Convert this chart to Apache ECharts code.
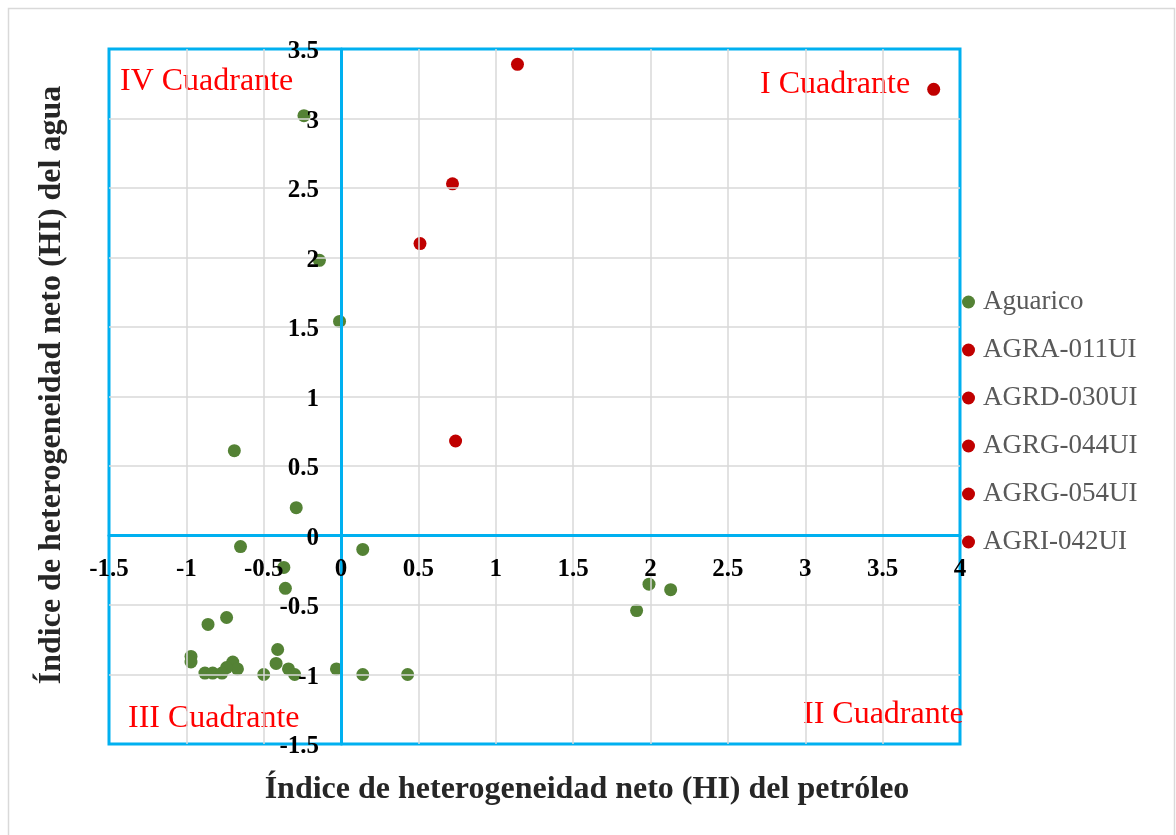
<!DOCTYPE html>
<html>
<head>
<meta charset="utf-8">
<script src="https://cdn.jsdelivr.net/npm/echarts@6/dist/echarts.min.js"></script>
<style>
html,body{margin:0;padding:0;background:#fff;}
#chart{width:1176px;height:835px;}
</style>
</head>
<body>
<div id="chart"></div>
<script>
// ---- data ----
const seriesNames = ['Aguarico', 'AGRA-011UI', 'AGRD-030UI', 'AGRG-044UI', 'AGRG-054UI', 'AGRI-042UI'];
const aguarico = [
  [-0.24, 3.02], [-0.14, 1.98], [-0.01, 1.54], [-0.69, 0.61], [-0.29, 0.20],
  [-0.65, -0.08], [0.14, -0.10], [-0.37, -0.23], [-0.36, -0.38], [1.99, -0.35],
  [2.13, -0.39], [1.91, -0.54], [-0.74, -0.59], [-0.86, -0.64], [-0.41, -0.82],
  [-0.97, -0.87], [-0.97, -0.91], [-0.42, -0.92], [-0.70, -0.91], [-0.67, -0.96],
  [-0.74, -0.95], [-0.88, -0.99], [-0.83, -0.99], [-0.77, -0.99], [-0.34, -0.96],
  [-0.30, -1.00], [-0.50, -1.00], [-0.03, -0.96], [0.14, -1.00], [0.43, -1.00]
];
const agra011 = [[1.14, 3.39]];
const agrd030 = [[3.83, 3.21]];
const agrg044 = [[0.72, 2.53]];
const agrg054 = [[0.51, 2.10]];
const agri042 = [[0.74, 0.68]];
const xRange = [-1.5, 4];
const yRange = [-1.5, 3.5];
const xTitle = 'Índice de heterogeneidad neto (HI) del petróleo';
const yTitle = 'Índice de heterogeneidad neto (HI) del agua';
const quadrantLabels = ['I Cuadrante', 'II Cuadrante', 'III Cuadrante', 'IV Cuadrante'];

// ---- chart ----
const serif = '"Liberation Serif", "Times New Roman", serif';
const GREEN = '#548235', RED = '#C00000', BLUE = '#00B0F0', GRID = '#D9D9D9';
const seriesData = [aguarico, agra011, agrd030, agrg044, agrg054, agri042];

const W = 1176, H = 835;
const gridBox = {left: 109, right: 216, top: 49, bottom: 91};
const plotW = W - gridBox.left - gridBox.right;
const plotH = H - gridBox.top - gridBox.bottom;
// move axes onto the zero lines
const yOffset = -plotW * (0 - xRange[0]) / (xRange[1] - xRange[0]);
const xOffset = -plotH * (0 - yRange[0]) / (yRange[1] - yRange[0]);

const chart = echarts.init(document.getElementById('chart'), null, {renderer: 'canvas'});

const labelFont = {color: '#000', fontFamily: serif, fontWeight: 'bold', fontSize: 25};
const axisCommon = {
  type: 'value',
  interval: 0.5,
  axisLine: {show: true, onZero: false, lineStyle: {color: BLUE, width: 3}},
  axisTick: {show: false},
  splitLine: {show: true, showMinLine: false, showMaxLine: false, lineStyle: {color: GRID, width: 1.5}},
  axisLabel: Object.assign({showMinLabel: true, showMaxLabel: true}, labelFont),
  z: 3
};

const option = {
  animation: false,
  backgroundColor: '#fff',
  grid: Object.assign({show: true, borderColor: BLUE, borderWidth: 3, backgroundColor: 'transparent'}, gridBox),
  xAxis: Object.assign({}, axisCommon, {
    min: xRange[0], max: xRange[1], position: 'bottom', offset: xOffset,
    axisLabel: Object.assign({}, axisCommon.axisLabel, {margin: 22})
  }),
  yAxis: Object.assign({}, axisCommon, {
    min: yRange[0], max: yRange[1], position: 'left', offset: yOffset,
    axisLabel: Object.assign({}, axisCommon.axisLabel, {
      margin: 22,
      formatter: '{a|{value}}',
      rich: {a: Object.assign({padding: [6, 0, 0, 0]}, labelFont)}
    })
  }),
  legend: {
    orient: 'vertical',
    left: 957, top: 281,
    itemWidth: 13, itemHeight: 13, itemGap: 16,
    icon: 'circle',
    textStyle: {fontFamily: serif, fontSize: 27, color: '#595959', lineHeight: 32, padding: [0, 0, 0, 3]},
    data: seriesNames
  },
  series: seriesNames.map((name, i) => ({
    name: name,
    type: 'scatter',
    symbol: 'circle',
    symbolSize: 13,
    itemStyle: {color: i === 0 ? GREEN : RED, opacity: 1},
    data: seriesData[i],
    z: 2
  })),
  graphic: [
    {type: 'rect', left: 6, top: 6, shape: {width: 1166, height: 840}, style: {fill: 'none', stroke: GRID, lineWidth: 1.5}, silent: true, z: -1},
    {type: 'text', left: 120, top: 66, style: {text: quadrantLabels[3], fill: '#FF0000', font: '32px ' + serif}},
    {type: 'text', left: 760, top: 69, style: {text: quadrantLabels[0], fill: '#FF0000', font: '32px ' + serif}},
    {type: 'text', left: 128, top: 703, style: {text: quadrantLabels[2], fill: '#FF0000', font: '32px ' + serif}},
    {type: 'text', left: 803, top: 699, style: {text: quadrantLabels[1], fill: '#FF0000', font: '32px ' + serif}},
    {type: 'text', x: 587, y: 790, style: {text: xTitle, fill: '#262626', font: 'bold 32px ' + serif, textAlign: 'center', textVerticalAlign: 'middle'}},
    {type: 'text', x: 52, y: 385, rotation: Math.PI / 2, style: {text: yTitle, fill: '#262626', font: 'bold 32px ' + serif, textAlign: 'center', textVerticalAlign: 'middle'}}
  ]
};
chart.setOption(option);
</script>
</body>
</html>
